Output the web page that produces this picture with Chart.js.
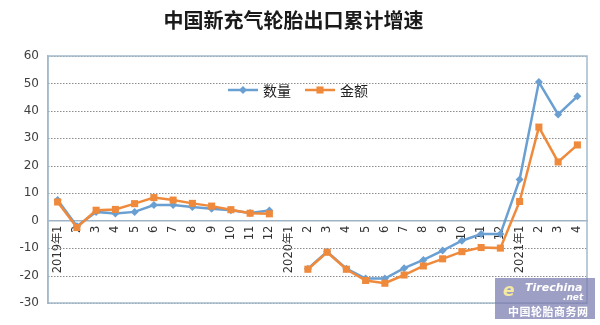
<!DOCTYPE html>
<html lang="zh-CN">
<head>
<meta charset="UTF-8">
<title>中国新充气轮胎出口累计增速</title>
<script src="https://cdn.jsdelivr.net/npm/chart.js"></script>
<style>
  html, body { margin: 0; padding: 0; background: #fff; }
  .wrap { position: relative; width: 600px; height: 325px; }
  .mark {
    position: absolute; left: 495px; top: 278px; width: 100px; height: 41px;
    background: rgba(120, 122, 175, 0.72); color: #fff;
    font-family: "DejaVu Sans", sans-serif; font-weight: bold;
  }
  .mark .logo { position: absolute; left: 8px; top: 2px; font-size: 17px; font-style: italic; color: #f3e9a0; }
  .mark .site { position: absolute; left: 30px; top: 3px; font-size: 11px; font-style: italic; }
  .mark .net { position: absolute; left: 68px; top: 14px; font-size: 9px; font-style: italic; }
  .mark .cn { position: absolute; left: 13px; top: 25px; font-size: 11px; font-family: "Noto Sans CJK SC", sans-serif; letter-spacing: 0.5px; }
</style>
</head>
<body>
<div class="wrap">
  <canvas id="grafico" width="600" height="325"></canvas>
  <div class="mark"><span class="logo">e</span><span class="site">Tirechina</span><span class="net">.net</span><span class="cn">中国轮胎商务网</span></div>
</div>
<script>
// 月份标签
const meses = ['2019年1','2','3','4','5','6','7','8','9','10','11','12',
               '2020年1','2','3','4','5','6','7','8','9','10','11','12',
               '2021年1','2','3','4'];
// 累计增速 (%)
const quantidade = [7.5, -2, 3.2, 2.6, 3.2, 5.7, 5.7, 5, 4.3, 3.8, 2.8, 3.7,
                    null, -17.5, -11.3, -17.5, -21.1, -21.1, -17.3, -14.3, -10.9, -7.3, -4.9, -4.9,
                    15, 50.5, 38.7, 45.3];
const valor = [6.8, -2.5, 3.8, 4.1, 6.2, 8.4, 7.5, 6.3, 5.3, 4, 2.7, 2.5,
               null, -17.7, -11.5, -17.7, -21.8, -22.8, -19.8, -16.5, -13.9, -11.3, -9.8, -10,
               7, 34.1, 21.4, 27.6];
const yTicks = [60, 50, 40, 30, 20, 10, 0, -10, -20, -30];

const azul = '#6a9fd2';
const laranja = '#ef8a3c';

// borda da área do gráfico
const moldura = {
  id: 'moldura',
  afterDraw(chart) {
    const { ctx, chartArea: a } = chart;
    ctx.save();
    ctx.strokeStyle = '#a4bacb';
    ctx.lineWidth = 1.5;
    ctx.strokeRect(a.left, a.top, a.right - a.left, a.bottom - a.top);
    ctx.restore();
  }
};

// linhas de grade pontilhadas
const grade = {
  id: 'grade',
  beforeDatasetsDraw(chart) {
    const { ctx, chartArea: a, scales } = chart;
    ctx.save();
    ctx.strokeStyle = '#8c8c8c';
    ctx.lineWidth = 1;
    ctx.setLineDash([1.5, 1.5]);
    yTicks.forEach(v => {
      if (v === 0) return;
      const y = Math.round(scales.y.getPixelForValue(v)) + 0.5;
      ctx.beginPath();
      ctx.moveTo(a.left, y);
      ctx.lineTo(a.right, y);
      ctx.stroke();
    });
    ctx.restore();
  }
};

// legenda dentro da área
const legenda = {
  id: 'legenda',
  afterDraw(chart) {
    const ctx = chart.ctx;
    const y = 90;
    const itens = [
      { x: 228, cor: azul, estilo: 'rectRot', raio: 4, texto: '数量' },
      { x: 305, cor: laranja, estilo: 'rect', raio: 5, texto: '金额' }
    ];
    ctx.save();
    itens.forEach(it => {
      ctx.strokeStyle = it.cor;
      ctx.lineWidth = 2.5;
      ctx.beginPath();
      ctx.moveTo(it.x, y);
      ctx.lineTo(it.x + 30, y);
      ctx.stroke();
      ctx.fillStyle = it.cor;
      Chart.helpers.drawPoint(ctx, { pointStyle: it.estilo, radius: it.raio, borderWidth: 0 }, it.x + 15, y);
      ctx.fillStyle = '#222';
      ctx.font = '14px "Noto Sans CJK SC"';
      ctx.textBaseline = 'middle';
      ctx.fillText(it.texto, it.x + 35, y + 1);
    });
    ctx.restore();
  }
};

new Chart(document.getElementById('grafico'), {
  type: 'line',
  data: {
    labels: meses,
    datasets: [
      {
        label: '数量',
        data: quantidade,
        borderColor: azul,
        backgroundColor: azul,
        borderWidth: 2.5,
        pointStyle: 'rectRot',
        pointRadius: 4,
        pointBorderWidth: 0,
        tension: 0,
        spanGaps: false,
        order: 1
      },
      {
        label: '金额',
        data: valor,
        borderColor: laranja,
        backgroundColor: laranja,
        borderWidth: 2.5,
        pointStyle: 'rect',
        pointRadius: 5,
        pointBorderWidth: 0,
        tension: 0,
        spanGaps: false,
        order: 0
      }
    ]
  },
  options: {
    responsive: false,
    animation: false,
    layout: { padding: { left: 0, right: 13, bottom: 22 } },
    plugins: {
      legend: { display: false },
      tooltip: { enabled: false },
      title: {
        display: true,
        text: '中国新充气轮胎出口累计增速',
        color: '#1a1a1a',
        font: { family: '"Noto Sans CJK SC"', size: 20, weight: 'bold' },
        padding: { top: 8, bottom: 24 }
      }
    },
    scales: {
      x: {
        type: 'category',
        position: { y: 0 },
        offset: true,
        grid: { display: false, drawTicks: false },
        border: { display: true, color: '#9fb4c6', width: 1.5 },
        ticks: {
          autoSkip: false,
          minRotation: 90,
          maxRotation: 90,
          padding: 5,
          color: '#333',
          font: { family: '"DejaVu Sans"', size: 11.5 }
        }
      },
      y: {
        min: -30,
        max: 60,
        afterFit(scale) { scale.width = 48; },
        afterBuildTicks(scale) { scale.ticks = yTicks.map(v => ({ value: v })); },
        grid: { display: false, drawTicks: false },
        border: { display: true, color: '#a4bacb', width: 1.5 },
        ticks: {
          padding: 9,
          color: '#404040',
          font: { family: '"DejaVu Sans"', size: 12 }
        }
      }
    }
  },
  plugins: [grade, moldura, legenda]
});
</script>
</body>
</html>
